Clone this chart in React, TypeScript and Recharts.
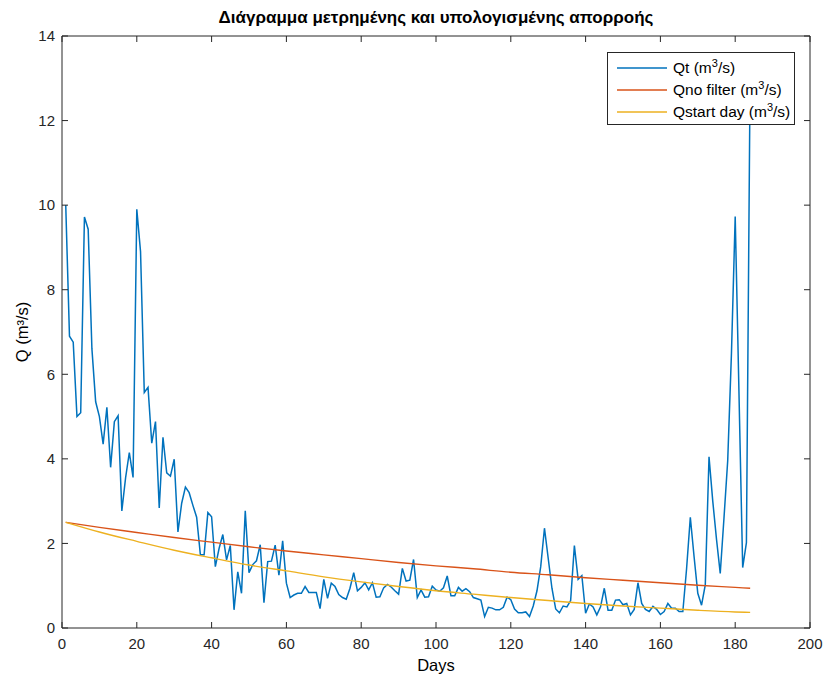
import React from 'react';
import { LineChart, Line, XAxis, YAxis, Legend } from 'recharts';

// measured daily runoff, days 1..184
const qtValues = [
  10.0, 6.9, 6.76, 5.0, 5.09, 9.72, 9.43, 6.6, 5.35, 5.0,
  4.35, 5.22, 3.8, 4.88, 5.02, 2.77, 3.55, 4.15, 3.56, 9.9,
  8.9, 5.57, 5.69, 4.37, 4.88, 2.84, 4.51, 3.67, 3.59, 3.99,
  2.27, 2.95, 3.33, 3.2, 2.9, 2.62, 1.73, 1.73, 2.73, 2.63,
  1.45, 1.88, 2.21, 1.61, 1.95, 0.43, 1.33, 0.82, 2.77, 1.31,
  1.5, 1.59, 1.97, 0.6, 1.57, 1.58, 1.96, 1.25, 2.06, 1.06,
  0.72, 0.78, 0.82, 0.82, 0.98, 0.84, 0.84, 0.84, 0.46, 1.15,
  0.7, 1.06, 0.98, 0.79, 0.72, 0.68, 0.94, 1.31, 0.88, 0.96,
  1.07, 0.9, 1.07, 0.73, 0.74, 0.95, 1.03, 0.97, 0.88, 0.8,
  1.41, 1.11, 1.13, 1.62, 0.72, 0.9, 0.73, 0.74, 0.99, 0.9,
  0.87, 0.95, 1.23, 0.76, 0.76, 0.96, 0.87, 0.93, 0.86, 0.72,
  0.69, 0.66, 0.27, 0.49, 0.47, 0.43, 0.43, 0.49, 0.73, 0.67,
  0.45, 0.36, 0.36, 0.38, 0.27, 0.52, 0.88, 1.45, 2.36, 1.65,
  0.94, 0.45, 0.36, 0.52, 0.5, 0.65, 1.95, 1.15, 1.24, 0.35,
  0.57, 0.5, 0.31, 0.5, 0.94, 0.42, 0.42, 0.66, 0.67, 0.55,
  0.58, 0.31, 0.44, 1.07, 0.58, 0.44, 0.39, 0.51, 0.44, 0.32,
  0.39, 0.58, 0.47, 0.47, 0.39, 0.39, 1.4, 2.62, 1.69, 0.82,
  0.54, 1.02, 4.05, 3.0, 2.1, 1.29, 2.6, 3.96, 6.5, 9.73,
  5.6, 1.43, 2.02, 13.2,
];

// calculated recession curves, read every 10 days
const curveDays = [1, 10, 20, 30, 40, 50, 60, 70, 80, 90, 100, 110, 120, 130, 140, 150, 160, 170, 180, 184];
const qNoFilter = [2.5, 2.38, 2.26, 2.14, 2.03, 1.92, 1.82, 1.73, 1.64, 1.55, 1.47, 1.4, 1.32, 1.26, 1.19, 1.13, 1.07, 1.01, 0.96, 0.94];
const qStartDay = [2.5, 2.27, 2.05, 1.84, 1.66, 1.49, 1.35, 1.21, 1.09, 0.98, 0.88, 0.8, 0.72, 0.65, 0.58, 0.52, 0.47, 0.42, 0.38, 0.37];

const xTicks = [0, 20, 40, 60, 80, 100, 120, 140, 160, 180, 200];
const yTicks = [0, 2, 4, 6, 8, 10, 12, 14];

const seriesNames = ['Qt', 'Qno filter', 'Qstart day'];
const seriesColors = ['#0072BD', '#D95319', '#EDB120'];

const FONT = '"Liberation Sans", Arial, Helvetica, sans-serif';
const AXIS = '#262626';

const qtData = qtValues.map((q, i) => ({ day: i + 1, q }));
const noFilterData = curveDays.map((day, i) => ({ day, q: qNoFilter[i] }));
const startDayData = curveDays.map((day, i) => ({ day, q: qStartDay[i] }));

function UnitLegend() {
  return (
    <div
      style={{
        width: 186,
        height: 67,
        background: '#fff',
        border: `1px solid ${AXIS}`,
        fontFamily: FONT,
        fontSize: 15.5,
        color: '#000',
        paddingTop: 4,
        boxSizing: 'content-box',
      }}
    >
      {seriesNames.map((name, i) => (
        <div key={name} style={{ display: 'flex', alignItems: 'center', height: 22 }}>
          <svg width={56} height={10} style={{ marginLeft: 9, flex: 'none' }}>
            <line x1={0} y1={5} x2={50} y2={5} stroke={seriesColors[i]} strokeWidth={1.3} />
          </svg>
          <span style={{ whiteSpace: 'nowrap' }}>
            {name} (m<sup style={{ fontSize: 11, lineHeight: 0 }}>3</sup>/s)
          </span>
        </div>
      ))}
    </div>
  );
}

function YTitle({ viewBox }: { viewBox?: { x: number; y: number; width: number; height: number } }) {
  if (!viewBox) return null;
  const cx = viewBox.x + 22;
  const cy = viewBox.y + viewBox.height / 2;
  return (
    <text
      x={cx}
      y={cy}
      transform={`rotate(-90, ${cx}, ${cy})`}
      textAnchor="middle"
      dominantBaseline="central"
      fontFamily={FONT}
      fontSize={16.5}
      fill="#000"
    >
      Q (m³/s)
    </text>
  );
}

export default function App() {
  const tickStyle = { fill: AXIS, fontFamily: FONT, fontSize: 15 };
  return (
    <div style={{ position: 'absolute', left: 0, top: 0, width: 829, height: 680, background: '#fff' }}>
      <div
        style={{
          position: 'absolute',
          left: 62,
          width: 748,
          top: 7,
          textAlign: 'center',
          fontFamily: FONT,
          fontWeight: 'bold',
          fontSize: 17,
          lineHeight: '22px',
          color: '#000',
        }}
      >
        Διάγραμμα μετρημένης και υπολογισμένης απορροής
      </div>
      <LineChart width={829} height={680} margin={{ top: 35, right: 18, bottom: 0, left: 0 }}>
        <XAxis
          xAxisId="main"
          dataKey="day"
          type="number"
          domain={[0, 200]}
          ticks={xTicks}
          allowDataOverflow
          height={52}
          stroke={AXIS}
          tickSize={-6}
          tickMargin={16}
          tick={tickStyle}
          label={{ value: 'Days', position: 'insideBottom', offset: 9, fill: '#000', fontFamily: FONT, fontSize: 16.5 }}
        />
        <XAxis
          xAxisId="top"
          orientation="top"
          dataKey="day"
          type="number"
          domain={[0, 200]}
          ticks={xTicks}
          allowDataOverflow
          height={1}
          stroke={AXIS}
          tickSize={-6}
          tickFormatter={() => ''}
        />
        <YAxis
          yAxisId="main"
          type="number"
          domain={[0, 14]}
          ticks={yTicks}
          allowDataOverflow
          width={62}
          stroke={AXIS}
          tickSize={-6}
          tickMargin={13}
          tick={tickStyle}
          label={<YTitle />}
        />
        <YAxis
          yAxisId="right"
          orientation="right"
          type="number"
          domain={[0, 14]}
          ticks={yTicks}
          allowDataOverflow
          width={1}
          stroke={AXIS}
          tickSize={-6}
          tickFormatter={() => ''}
        />
        <Line
          xAxisId="main"
          yAxisId="main"
          data={qtData}
          dataKey="q"
          name="Qt"
          type="linear"
          stroke={seriesColors[0]}
          strokeWidth={1.5}
          dot={false}
          isAnimationActive={false}
        />
        <Line
          xAxisId="top"
          yAxisId="right"
          data={noFilterData}
          dataKey="q"
          name="Qno filter"
          type="monotone"
          stroke={seriesColors[1]}
          strokeWidth={1.4}
          dot={false}
          isAnimationActive={false}
        />
        <Line
          xAxisId="main"
          yAxisId="main"
          data={startDayData}
          dataKey="q"
          name="Qstart day"
          type="monotone"
          stroke={seriesColors[2]}
          strokeWidth={1.4}
          dot={false}
          isAnimationActive={false}
        />
        <Legend
          layout="vertical"
          align="center"
          verticalAlign="middle"
          content={<UnitLegend />}
          wrapperStyle={{ top: 52, left: 607, width: 188, margin: 0 }}
        />
      </LineChart>
    </div>
  );
}
